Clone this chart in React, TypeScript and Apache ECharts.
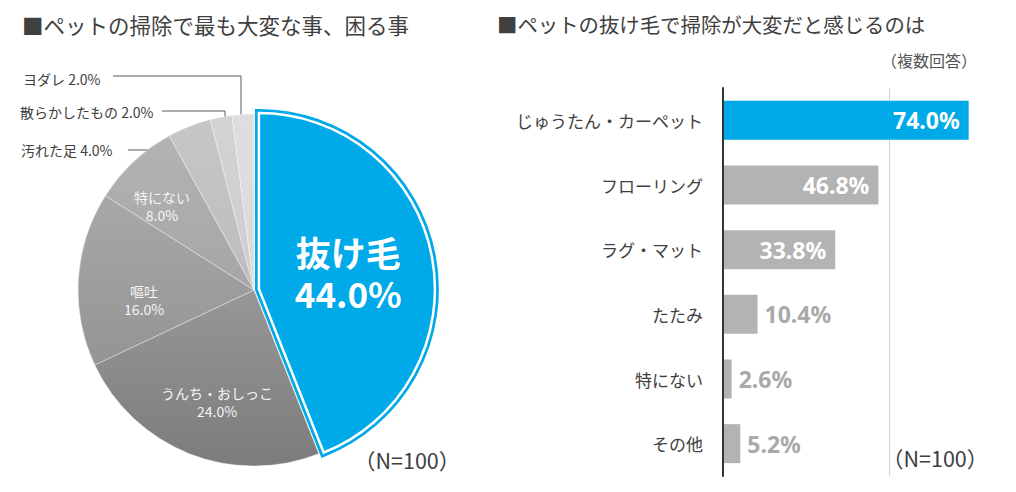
import React, { useEffect, useRef } from "react";
import * as echarts from "echarts";

// ---------- data ----------
const pieNames = ["抜け毛", "うんち・おしっこ", "嘔吐", "特にない", "汚れた足", "散らかしたもの", "ヨダレ"];
const pieValues = [44.0, 24.0, 16.0, 8.0, 4.0, 2.0, 2.0];

const barCategories = ["じゅうたん・カーペット", "フローリング", "ラグ・マット", "たたみ", "特にない", "その他"];
const barValues = [74.0, 46.8, 33.8, 10.4, 2.6, 5.2];

const leftTitle = "■ペットの掃除で最も大変な事、困る事";
const rightTitle = "■ペットの抜け毛で掃除が大変だと感じるのは";
const multiNote = "（複数回答）";
const sampleNote = "（N=100）";

// ---------- styles ----------
const BLUE = "#00a9e8";
const BAR_GRAY = "#b3b3b3";
const TEXT = "#404040";
const JP = '"Noto Sans CJK JP", "Noto Sans", sans-serif';

const sliceGradients: [string, string][] = [
  [BLUE, BLUE],
  ["#979797", "#7c7c7c"],
  ["#a8a8a8", "#949494"],
  ["#b3b3b3", "#a6a6a6"],
  ["#c6c6c6", "#bdbdbd"],
  ["#d3d3d3", "#cdcdcd"],
  ["#dedede", "#dadada"],
];

// label placement (layout, not data)
const pieLabelLayout: Record<number, { x: number; y: number; align: string; line?: number[][] }> = {
  1: { x: 217, y: 402, align: "center" },
  2: { x: 144, y: 300, align: "center" },
  3: { x: 162, y: 206, align: "center" },
  4: { x: 21, y: 150, align: "left", line: [[128, 150], [160, 150], [193, 150]] },
  5: { x: 20, y: 112, align: "left", line: [[162, 111], [225, 111], [225, 129]] },
  6: { x: 23, y: 79, align: "left", line: [[113, 76], [241, 76], [241, 126]] },
};

const CENTER = [254, 290];
const RADIUS = 176;
const OFFSET = 5;

function gradient(i: number) {
  const [a, b] = sliceGradients[i];
  return new echarts.graphic.LinearGradient(0, 0, 0, 1, [
    { offset: 0, color: a },
    { offset: 1, color: b },
  ]);
}

function buildOption() {
  const outsideIdx = [4, 5, 6];
  const baseData = pieNames.map((name, i) => {
    const outside = outsideIdx.includes(i);
    return {
      name,
      value: pieValues[i],
      selected: i === 0,
      itemStyle:
        i === 0
          ? { color: BLUE, borderWidth: 0 }
          : { color: gradient(i), borderColor: "rgba(255,255,255,0.45)", borderWidth: 0.8 },
      label:
        i === 0
          ? { show: false }
          : outside
          ? {
              show: true,
              position: "outside",
              color: TEXT,
              fontSize: 14,
              fontFamily: JP,
              formatter: (p: any) => `${p.name} ${p.value.toFixed(1)}%`,
            }
          : {
              show: true,
              position: "inside",
              color: "#f4f4f4",
              fontSize: 14,
              lineHeight: 18,
              fontFamily: JP,
              formatter: (p: any) => `${p.name}\n${p.value.toFixed(1)}%`,
            },
      labelLine: outside ? { show: true, length: 10, length2: 10, lineStyle: { color: "#595959", width: 1 } } : { show: false },
    };
  });

  const overlayData = (stroke: string, width: number, withLabel: boolean) =>
    pieNames.map((name, i) => ({
      name,
      value: pieValues[i],
      selected: i === 0,
      itemStyle:
        i === 0
          ? { color: BLUE, borderColor: stroke, borderWidth: width, borderJoin: "miter" }
          : { color: "rgba(0,0,0,0)", borderWidth: 0 },
      label:
        i === 0 && withLabel
          ? {
              show: true,
              position: "inside",
              color: "#ffffff",
              fontSize: 35,
              fontWeight: "bold",
              lineHeight: 41,
              fontFamily: JP,
              formatter: (p: any) => `${p.name}\n${p.value.toFixed(1)}%`,
            }
          : { show: false },
      labelLine: { show: false },
    }));

  const pieCommon = {
    type: "pie",
    center: CENTER,
    radius: RADIUS,
    startAngle: 90,
    clockwise: true,
    selectedMode: "single",
    selectedOffset: OFFSET,
    avoidLabelOverlap: false,
    silent: true,
    emphasis: { disabled: true },
  };

  const titleStyle = (size: number, color = TEXT) => ({ fontSize: size, fontWeight: "normal", color, fontFamily: JP });

  return {
    animation: false,
    backgroundColor: "#ffffff",
    title: [
      { text: leftTitle, left: 22, top: 14, padding: 0, textStyle: titleStyle(21.5) },
      { text: rightTitle, left: 497, top: 14, padding: 0, textStyle: titleStyle(20.4) },
      { text: multiNote, right: 39, top: 52, padding: 0, textStyle: titleStyle(16, "#555555") },
      { text: sampleNote, left: 354, top: 449, padding: 0, textStyle: titleStyle(21.5) },
      { text: sampleNote, left: 882, top: 447, padding: 0, textStyle: titleStyle(21.5) },
    ],
    grid: { left: 723, top: 88, width: 332, height: 388, outerBoundsMode: "none", containLabel: false },
    xAxis: {
      type: "value",
      min: 0,
      max: 100,
      interval: 50,
      axisLabel: { show: false },
      axisLine: { show: false },
      axisTick: { show: false },
      splitLine: { show: true, lineStyle: { color: "#d4d4d4", width: 1 } },
    },
    yAxis: {
      type: "category",
      data: barCategories,
      inverse: true,
      axisTick: { show: false },
      axisLine: { show: true, lineStyle: { color: "#333333", width: 2 } },
      axisLabel: { color: TEXT, fontSize: 17, margin: 20, fontFamily: JP },
      z: 5,
    },
    series: [
      {
        ...pieCommon,
        z: 2,
        data: baseData,
        labelLayout: (params: any) => {
          const L = pieLabelLayout[params.dataIndex];
          if (!L) return {};
          const out: any = { x: L.x, y: L.y, align: L.align, verticalAlign: "middle" };
          if (L.line) out.labelLinePoints = L.line;
          return out;
        },
      },
      { ...pieCommon, z: 3, data: overlayData(BLUE, 8, false) },
      {
        ...pieCommon,
        z: 4,
        data: overlayData("#ffffff", 2.5, true),
        labelLayout: (params: any) =>
          params.dataIndex === 0 ? { x: 350, y: 284, align: "center", verticalAlign: "middle" } : {},
      },
      {
        type: "bar",
        barWidth: 39,
        silent: true,
        data: barValues.map((v, i) => ({
          value: v,
          itemStyle: { color: i === 0 ? BLUE : BAR_GRAY },
          label:
            i < 3
              ? { show: true, position: "insideRight", distance: 9, color: "#ffffff" }
              : { show: true, position: "right", distance: 7, color: "#a9a9a9" },
        })),
        label: {
          show: true,
          fontSize: 23,
          fontWeight: "bold",
          fontFamily: '"Noto Sans", "Noto Sans CJK JP", sans-serif',
          formatter: (p: any) => `${Number(p.value).toFixed(1)}%`,
        },
      },
    ],
  };
}

export default function App() {
  const ref = useRef<HTMLDivElement>(null);
  useEffect(() => {
    if (!ref.current) return;
    const chart = echarts.init(ref.current, null, { renderer: "svg" });
    chart.setOption(buildOption() as any);
    return () => chart.dispose();
  }, []);
  return (
    <div
      ref={ref}
      style={{ position: "fixed", left: 0, top: 0, width: 1016, height: 492, background: "#fff" }}
    />
  );
}
